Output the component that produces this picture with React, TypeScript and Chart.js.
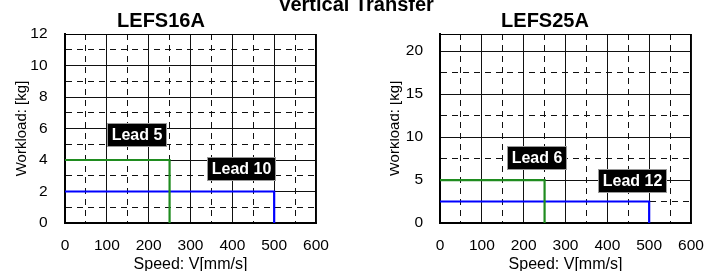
import React, { useEffect, useRef } from 'react';
import { Chart, registerables } from 'chart.js';

Chart.register(...registerables);

const FONT = '"Liberation Sans", Arial, Helvetica, sans-serif';
Chart.defaults.font.family = FONT;

// ---- Data ----
const xTickValues = [0, 50, 100, 150, 200, 250, 300, 350, 400, 450, 500, 550, 600];
const leftYTickValues = [0, 1, 2, 3, 4, 5, 6, 7, 8, 9, 10, 11, 12];
const rightYTickValues = [0, 2.5, 5, 7.5, 10, 12.5, 15, 17.5, 20, 22];

// LEFS16A
const lead5Speed = [0, 250, 250];
const lead5Load = [4, 4, 0];
const lead10Speed = [0, 500, 500];
const lead10Load = [2, 2, 0];

// LEFS25A
const lead6Speed = [0, 250, 250];
const lead6Load = [5, 5, 0];
const lead12Speed = [0, 500, 500];
const lead12Load = [2.5, 2.5, 0];

// Label anchors (data units)
const leftLabelTexts = ['Lead 5', 'Lead 10'];
const leftLabelSpeed = [173, 422];
const leftLabelLoad = [5.6, 3.4];
const rightLabelTexts = ['Lead 6', 'Lead 12'];
const rightLabelSpeed = [232, 461];
const rightLabelLoad = [7.55, 4.94];

const GREEN = '#1f8c1f';
const BLUE = '#0000ff';

const framePlugin = {
  id: 'frame',
  beforeDatasetsDraw(chart: any) {
    const { ctx, chartArea } = chart;
    const l = Math.round(chartArea.left) + 0.5;
    const t = Math.round(chartArea.top) + 0.5;
    const r = Math.round(chartArea.right) - 0.5;
    const b = Math.round(chartArea.bottom) - 0.5;
    ctx.save();
    ctx.strokeStyle = '#000';
    ctx.lineWidth = 1;
    ctx.setLineDash([]);
    ctx.strokeRect(l, t, r - l, b - t);
    ctx.restore();
  },
};

function makeLabelPlugin(texts: string[], xs: number[], ys: number[]) {
  return {
    id: 'leadLabels',
    afterDatasetsDraw(chart: any) {
      const { ctx } = chart;
      const xs_ = chart.scales.x;
      const ys_ = chart.scales.y;
      ctx.save();
      ctx.font = `bold 16px ${FONT}`;
      texts.forEach((t, i) => {
        const cx = xs_.getPixelForValue(xs[i]);
        const cy = ys_.getPixelForValue(ys[i]);
        const w = Math.round(ctx.measureText(t).width + 9);
        const h = 24;
        const bx = Math.round(cx - w / 2);
        const by = Math.round(cy - h / 2);
        ctx.fillStyle = '#000';
        ctx.fillRect(bx, by, w, h);
        ctx.strokeStyle = '#9a9a9a';
        ctx.lineWidth = 1;
        ctx.strokeRect(bx + 0.5, by + 0.5, w - 1, h - 1);
        ctx.fillStyle = '#fff';
        ctx.textAlign = 'center';
        ctx.textBaseline = 'middle';
        ctx.fillText(t, bx + w / 2, by + h / 2 + 1);
      });
      ctx.restore();
    },
  };
}

interface Series { xs: number[]; ys: number[]; color: string }

function buildConfig(o: {
  title: string;
  series: Series[];
  yMax: number;
  yTicks: number[];
  yLabelEvery: number;
  yLabelMax: number;
  yWidth: number;
  yTitlePad: number;
  yTickPad: number;
  layoutRight: number;
  padRight: number;
  labels: any;
}): any {
  return {
    type: 'line',
    data: {
      datasets: o.series.map((s) => ({
        data: s.xs.map((x, i) => ({ x, y: s.ys[i] })),
        borderColor: s.color,
        backgroundColor: s.color,
        borderWidth: 2.2,
        pointRadius: 0,
        fill: false,
        tension: 0,
      })),
    },
    options: {
      animation: false,
      responsive: false,
      devicePixelRatio: 1,
      layout: { padding: { left: 0, top: 0, bottom: 0, right: o.layoutRight } },
      plugins: {
        legend: { display: false },
        tooltip: { enabled: false },
        title: {
          display: true,
          text: o.title,
          color: '#000',
          font: { family: FONT, size: 20, weight: 'bold', lineHeight: 1.2 },
          padding: { top: 9, bottom: 1 },
        },
      },
      scales: {
        x: {
          type: 'linear',
          min: 0,
          max: 600,
          afterBuildTicks: (s: any) => {
            s.ticks = xTickValues.map((v) => ({ value: v }));
          },
          afterFit: (s: any) => {
            s.height = 48;
            s.paddingLeft = 0;
            s.paddingRight = o.padRight;
          },
          ticks: {
            autoSkip: false,
            maxRotation: 0,
            minRotation: 0,
            padding: 13,
            color: '#000',
            font: { family: FONT, size: 15.5 },
            callback: (v: any) => (Number(v) % 100 === 0 ? String(v) : ''),
          },
          grid: { color: '#111', lineWidth: 1, drawTicks: false },
          border: {
            display: true,
            color: '#000',
            width: 2,
            dash: (ctx: any) => (ctx.tick && ctx.tick.value % 100 !== 0 ? [6, 5] : []),
          },
          title: {
            display: true,
            text: 'Speed: V[mm/s]',
            color: '#000',
            font: { family: FONT, size: 16, lineHeight: 0.85 },
            padding: { top: 0, bottom: 0 },
          },
        },
        y: {
          type: 'linear',
          min: 0,
          max: o.yMax,
          afterBuildTicks: (s: any) => {
            s.ticks = o.yTicks.map((v) => ({ value: v }));
          },
          afterFit: (s: any) => {
            s.width = o.yWidth;
            s.paddingTop = 0;
            s.paddingBottom = 0;
          },
          ticks: {
            autoSkip: false,
            padding: o.yTickPad,
            color: '#000',
            font: { family: FONT, size: 15.5 },
            callback: (v: any) => {
              const n = Number(v);
              return n % o.yLabelEvery === 0 && n <= o.yLabelMax ? String(n) : '';
            },
          },
          grid: { color: '#111', lineWidth: 1, drawTicks: false },
          border: {
            display: true,
            color: '#000',
            width: 2,
            dash: (ctx: any) =>
              ctx.tick && ctx.tick.value % o.yLabelEvery !== 0 ? [6, 5] : [],
          },
          title: {
            display: true,
            text: 'Workload: [kg]',
            color: '#000',
            font: { family: FONT, size: 15, lineHeight: 1 },
            padding: { top: o.yTitlePad, bottom: 0 },
          },
        },
      },
    },
    plugins: [framePlugin, o.labels],
  };
}

export default function App() {
  const leftRef = useRef<HTMLCanvasElement>(null);
  const rightRef = useRef<HTMLCanvasElement>(null);

  useEffect(() => {
    const left = new Chart(
      leftRef.current as HTMLCanvasElement,
      buildConfig({
        title: 'LEFS16A',
        series: [
          { xs: lead5Speed, ys: lead5Load, color: GREEN },
          { xs: lead10Speed, ys: lead10Load, color: BLUE },
        ],
        yMax: 12,
        yTicks: leftYTickValues,
        yLabelEvery: 2,
        yLabelMax: 12,
        yWidth: 65,
        yTitlePad: 14.6,
        yTickPad: 17.5,
        layoutRight: 12,
        padRight: 18,
        labels: makeLabelPlugin(leftLabelTexts, leftLabelSpeed, leftLabelLoad),
      })
    );
    const right = new Chart(
      rightRef.current as HTMLCanvasElement,
      buildConfig({
        title: 'LEFS25A',
        series: [
          { xs: lead6Speed, ys: lead6Load, color: GREEN },
          { xs: lead12Speed, ys: lead12Load, color: BLUE },
        ],
        yMax: 22,
        yTicks: rightYTickValues,
        yLabelEvery: 5,
        yLabelMax: 20,
        yWidth: 50,
        yTitlePad: -2.7,
        yTickPad: 17,
        layoutRight: 4,
        padRight: 13,
        labels: makeLabelPlugin(rightLabelTexts, rightLabelSpeed, rightLabelLoad),
      })
    );
    return () => {
      left.destroy();
      right.destroy();
    };
  }, []);

  return (
    <div
      style={{
        position: 'absolute',
        left: 0,
        top: 0,
        width: 704,
        height: 271,
        overflow: 'hidden',
        background: '#fff',
      }}
    >
      <canvas
        ref={leftRef}
        width={334}
        height={271}
        style={{ position: 'absolute', left: 0, top: 0, width: 334, height: 271 }}
      />
      <canvas
        ref={rightRef}
        width={314}
        height={271}
        style={{ position: 'absolute', left: 390, top: 0, width: 314, height: 271 }}
      />
      <div
        style={{
          position: 'absolute',
          left: 206,
          top: -6,
          width: 300,
          textAlign: 'center',
          font: `bold 20px ${FONT}`,
          lineHeight: '20px',
          color: '#000',
          whiteSpace: 'nowrap',
        }}
      >
        Vertical Transfer
      </div>
    </div>
  );
}
